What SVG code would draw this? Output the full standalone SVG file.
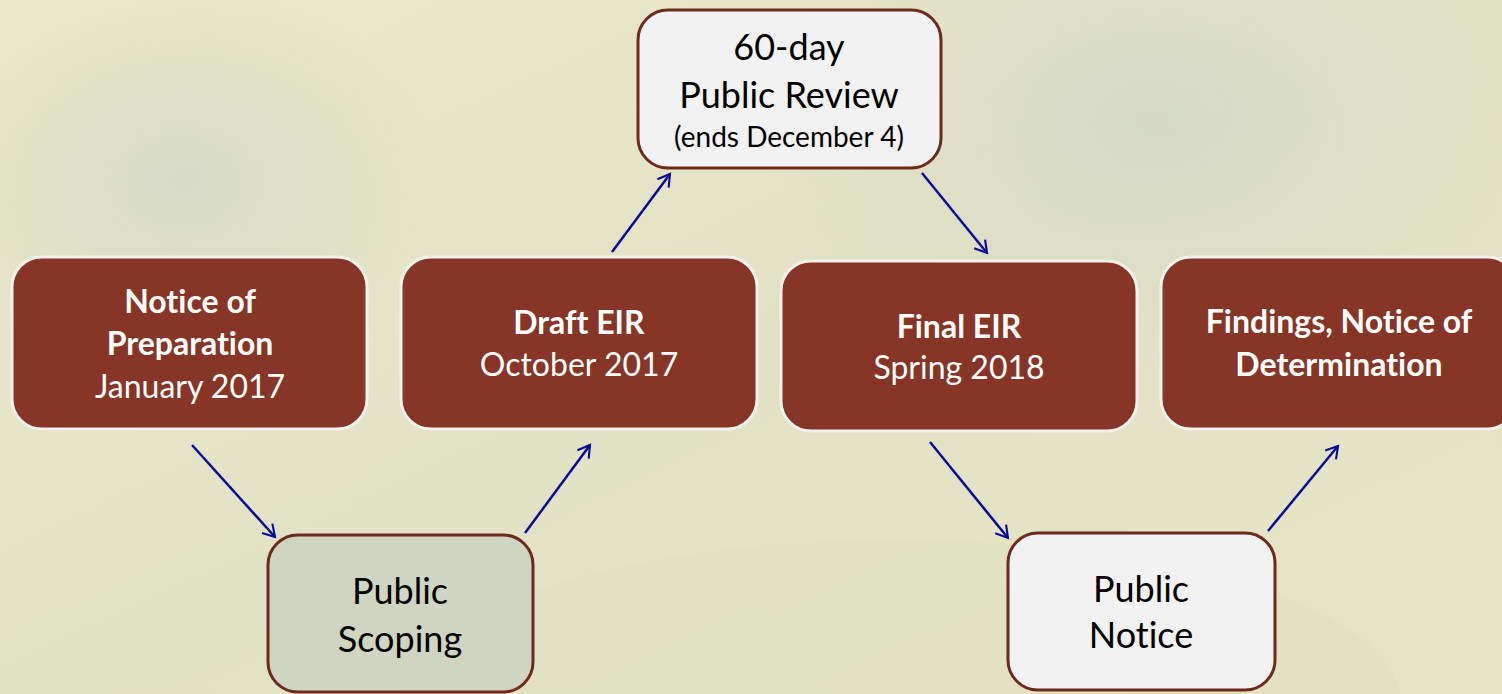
<svg xmlns="http://www.w3.org/2000/svg" width="1502" height="694" viewBox="0 0 1502 694">
<defs>
<linearGradient id="bg" x1="0" y1="0" x2="1" y2="1">
<stop offset="0" stop-color="#ebe8c8"/>
<stop offset="0.5" stop-color="#e2e2c6"/>
<stop offset="1" stop-color="#e6e4c4"/>
</linearGradient>
<radialGradient id="glow" cx="0.5" cy="0.5" r="0.5">
<stop offset="0" stop-color="#cfd6c4" stop-opacity="0.7"/>
<stop offset="1" stop-color="#cfd6c4" stop-opacity="0"/>
</radialGradient>
<marker id="ah" viewBox="0 0 12 12" refX="10" refY="6" markerWidth="14" markerHeight="14" markerUnits="userSpaceOnUse" orient="auto" overflow="visible">
<path d="M0,0 L10,6 L0,12" fill="none" stroke="#0a0a9a" stroke-width="1.8"/>
</marker>
<style>
.dark{fill:#873526;stroke:#f4f1ea;stroke-width:3}
.light{fill:#f2f2f2;stroke:#6e2a1c;stroke-width:3}
.green{fill:#cfd5c0;stroke:#6e2a1c;stroke-width:3}
text{font-variant-ligatures:none;font-feature-settings:"liga" 0,"dlig" 0}
.wt{fill:#ffffff;font-family:Lato,"Open Sans",sans-serif;font-size:32px;text-anchor:middle}
.wb{font-weight:bold}
.bt{fill:#000000;font-family:Lato,"Open Sans",sans-serif;font-size:36px;text-anchor:middle}
.sm{font-size:28px}
.conn line{stroke:#0a0a9a;stroke-width:2.5;marker-end:url(#ah)}
</style>
</defs>
<rect width="1502" height="694" fill="url(#bg)"/>
<ellipse cx="180" cy="180" rx="260" ry="200" fill="url(#glow)"/>
<ellipse cx="1150" cy="120" rx="380" ry="260" fill="url(#glow)"/>
<ellipse cx="900" cy="700" rx="500" ry="160" fill="#dcdcc0" opacity="0.35"/>

<g class="conn" id="connectors">
<line x1="192" y1="445" x2="275" y2="537"/>
<line x1="525" y1="533" x2="590" y2="445"/>
<line x1="612" y1="252" x2="670" y2="174"/>
<line x1="922" y1="173" x2="987" y2="253"/>
<line x1="930" y1="442" x2="1008" y2="538"/>
<line x1="1268" y1="531" x2="1338" y2="446"/>
</g>

<g id="node-nop">
<rect class="dark" x="12" y="257" width="355" height="172" rx="30"/>
<text class="wt wb" x="190" y="313">Notice of</text>
<text class="wt wb" x="190" y="355">Preparation</text>
<text class="wt" x="190" y="398">January 2017</text>
</g>
<g id="node-draft">
<rect class="dark" x="401" y="257" width="356" height="172" rx="30"/>
<text class="wt wb" x="579" y="334">Draft EIR</text>
<text class="wt" x="579" y="376">October 2017</text>
</g>
<g id="node-final">
<rect class="dark" x="781" y="261" width="356" height="170" rx="30"/>
<text class="wt wb" x="959" y="338">Final EIR</text>
<text class="wt" x="959" y="379">Spring 2018</text>
</g>
<g id="node-findings">
<rect class="dark" x="1161" y="257" width="356" height="172" rx="30"/>
<text class="wt wb" x="1339" y="333">Findings, Notice of</text>
<text class="wt wb" x="1339" y="376">Determination</text>
</g>
<g id="node-review">
<rect class="light" x="638" y="10" width="303" height="158" rx="30"/>
<text class="bt" x="789" y="60">60-day</text>
<text class="bt" x="789" y="108">Public Review</text>
<text class="bt sm" x="789" y="147">(ends December 4)</text>
</g>
<g id="node-scoping">
<rect class="green" x="268" y="535" width="265" height="157" rx="30"/>
<text class="bt" x="400" y="604">Public</text>
<text class="bt" x="400" y="652">Scoping</text>
</g>
<g id="node-notice">
<rect class="light" x="1008" y="533" width="267" height="157" rx="30"/>
<text class="bt" x="1141" y="602">Public</text>
<text class="bt" x="1141" y="648">Notice</text>
</g>
</svg>
